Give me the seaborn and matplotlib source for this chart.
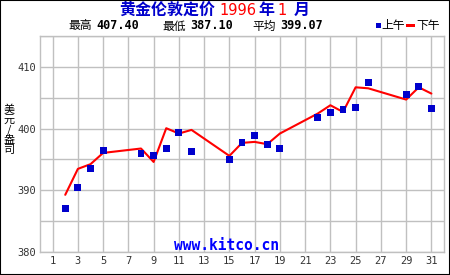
import matplotlib
matplotlib.use("Agg")
import matplotlib.pyplot as plt
import seaborn as sns
import pandas as pd
from matplotlib.patches import Rectangle

days = [2, 3, 4, 5, 8, 9, 10, 11, 12, 15, 16, 17, 18, 19, 22, 23, 24, 25, 26, 29, 30, 31]
am_price = [387.10, 390.50, 393.55, 396.45, 395.97, 395.65, 396.77, 399.35, 396.30, 395.00, 397.74,
            398.87, 397.42, 396.77, 401.77, 402.58, 403.06, 403.39, 407.40, 405.48, 406.77, 403.23]
pm_price = [389.29, 393.48, 394.24, 396.06, 396.77, 394.60, 400.05, 399.19, 399.78, 395.58, 397.68,
            397.84, 397.47, 399.19, 402.42, 403.76, 402.68, 406.66, 406.50, 404.68, 406.66, 405.65]
x_ticks = list(range(1, 32, 2))
y_ticks = [380, 390, 400, 410]
title_parts = ["黄金伦敦定价", "1996", "年", "1", "月"]
stats_labels = ["最高", "最低", "平均"]
stats_values = ["407.40", "387.10", "399.07"]
legend_labels = ["上午", "下午"]

df = pd.DataFrame({"day": days, "am": am_price, "pm": pm_price})

sns.set_theme(style="white")
CJK = ["Noto Sans CJK SC", "DejaVu Sans"]
plt.rcParams["font.family"] = CJK

W, H = 450, 275
fig = plt.figure(figsize=(W / 100, H / 100), dpi=100)
fig.patch.set_facecolor("white")
ax = fig.add_axes([40 / W, 1 - 252.3 / H, (444 - 40) / W, (252.3 - 35.7) / H])

BLUE = "#0000CC"
RED = "#FF0000"
GRID = "#C0C0C0"

sns.lineplot(data=df, x="day", y="pm", ax=ax, color=RED, linewidth=1.5, zorder=3)
sns.scatterplot(data=df, x="day", y="am", ax=ax, color=BLUE, marker="s", s=24,
                edgecolor="none", linewidth=0, zorder=4)

ax.set_xlim(0, 32)
ax.set_ylim(380, 415)
ax.set_xticks(x_ticks)
ax.set_xticklabels([str(t) for t in x_ticks], family="DejaVu Sans Mono", fontsize=7.5, color="#333333")
ax.set_yticks(list(range(380, 416, 5)))
ax.set_yticklabels([str(t) if t in y_ticks else "" for t in range(380, 416, 5)],
                   family="DejaVu Sans Mono", fontsize=7.5, color="#333333")
ax.tick_params(axis="both", length=0, pad=3)
ax.grid(True, color=GRID, linewidth=1)
ax.set_axisbelow(True)
for sp in ax.spines.values():
    sp.set_color(GRID)
    sp.set_linewidth(1)
ax.set_xlabel("")
ax.set_ylabel("")

# y label stacked
fig.text(9 / W, 1 - 130 / H, "美\n元\n/\n盎\n司", ha="center", va="center", fontsize=8,
         linespacing=1.0, family=CJK, color="black")

def ftext(x, y, s, color, size, weight="bold", family=CJK):
    fig.text(x / W, 1 - y / H, s, ha="left", va="center", color=color, fontsize=size,
             fontweight=weight, family=family)

# title
ftext(119, 10, title_parts[0], BLUE, 11.5)
ftext(219, 10.5, title_parts[1], RED, 10.5, weight="normal", family="DejaVu Sans")
ftext(258, 10, title_parts[2], BLUE, 11.5)
ftext(277, 10.5, title_parts[3], RED, 10.5, weight="normal", family="DejaVu Sans")
ftext(294, 10, title_parts[4], BLUE, 11.5)

# stats line
stat_x = [(68, 96), (162, 190), (252, 280)]
for (lx, vx), lab, val in zip(stat_x, stats_labels, stats_values):
    ftext(lx, 26, lab, "black", 8.5, weight="normal")
    ftext(vx, 26, val, "black", 8.5, weight="bold", family="DejaVu Sans Mono")

# legend
fig.patches.append(Rectangle((376 / W, 1 - 27.5 / H), 5 / W, 5 / H, transform=fig.transFigure,
                             facecolor=BLUE, edgecolor="none"))
ftext(381, 26, legend_labels[0], "black", 8.5, weight="normal")
fig.patches.append(Rectangle((406 / W, 1 - 26.5 / H), 9 / W, 2.5 / H, transform=fig.transFigure,
                             facecolor=RED, edgecolor="none"))
ftext(416, 26, legend_labels[1], "black", 8.5, weight="normal")

# watermark
ax.text(0.462, 0.03, "www.kitco.cn", transform=ax.transAxes, ha="center", va="center",
        color="#0000FF", fontsize=10.5, fontweight="bold", family="DejaVu Sans Mono")

# outer frame
fig.patches.append(Rectangle((0, 0), 1, 1, transform=fig.transFigure, fill=False,
                             edgecolor="black", linewidth=1.5))

fig.savefig("out.png", dpi=100, facecolor="white")
